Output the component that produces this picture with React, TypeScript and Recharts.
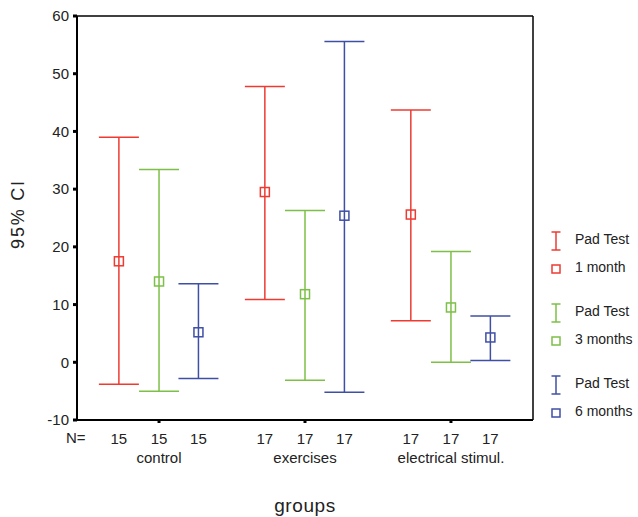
import React from 'react';
import { ComposedChart, Scatter, ErrorBar, XAxis, YAxis, ReferenceLine } from 'recharts';

const groups = ['control', 'exercises', 'electrical stimul.'];
const groupPos = [1, 2, 3];
const nValues = [15, 17, 17];
const yTicks = [-10, 0, 10, 20, 30, 40, 50, 60];

const seriesNames = ['1 month', '3 months', '6 months'];
const seriesColors = ['#ee3a31', '#7dbf47', '#3f4fa5'];
const seriesOffsets = [-0.275, 0, 0.27];

const mean1 = [17.5, 29.5, 25.6];
const low1 = [-3.8, 10.9, 7.2];
const high1 = [39.0, 47.8, 43.7];

const mean3 = [14.0, 11.8, 9.5];
const low3 = [-5.0, -3.1, 0.0];
const high3 = [33.4, 26.3, 19.2];

const mean6 = [5.2, 25.4, 4.3];
const low6 = [-2.8, -5.2, 0.3];
const high6 = [13.6, 55.6, 8.0];

const means = [mean1, mean3, mean6];
const lows = [low1, low3, low6];
const highs = [high1, high3, high6];

const buildSeries = (s: number) =>
  groupPos.map((g, i) => ({
    x: g + seriesOffsets[s],
    y: means[s][i],
    err: [means[s][i] - lows[s][i], highs[s][i] - means[s][i]],
  }));

const FONT = '"Liberation Sans", Arial, sans-serif';

const makeSquare = (color: string) => (props: any) => {
  const { cx, cy } = props;
  return <rect x={cx - 4.5} y={cy - 4.5} width={9} height={9} fill="none" stroke={color} strokeWidth={1.5} />;
};

const XTick = (props: any) => {
  const { x, y, payload } = props;
  const idx = groupPos.indexOf(payload.value);
  const px = 146;
  return (
    <g fontFamily={FONT}>
      {idx === 0 && (
        <text x={x - 93} y={y + 14} fontSize={15} dominantBaseline="middle" fill="#222">N=</text>
      )}
      {seriesOffsets.map((o, s) => (
        <text key={s} x={x + o * px} y={y + 15} fontSize={15} textAnchor="middle" dominantBaseline="middle" fill="#222">
          {nValues[idx]}
        </text>
      ))}
      <text x={x} y={y + 34} fontSize={15} textAnchor="middle" dominantBaseline="middle" fill="#222">
        {groups[idx]}
      </text>
    </g>
  );
};

const YLabel = (props: any) => {
  const vb = props.viewBox || { x: 0, y: 16, width: 77, height: 404 };
  const cx = 19;
  const cy = vb.y + vb.height / 2 - 4;
  return (
    <text
      x={cx}
      y={cy}
      transform={`rotate(-90 ${cx} ${cy})`}
      textAnchor="middle"
      dominantBaseline="middle"
      fontSize={18}
      letterSpacing={1.8}
      fill="#222"
      fontFamily={FONT}
    >
      95% CI
    </text>
  );
};

const LegendBox = () => (
  <svg width={95} height={200} style={{ position: 'absolute', left: 545, top: 225, fontFamily: FONT }}>
    {seriesColors.map((c, s) => {
      const base = [6, 78, 150][s];
      return (
        <g key={s}>
          <line x1={11} y1={base + 1} x2={11} y2={base + 19} stroke={c} strokeWidth={1.5} />
          <line x1={6.5} y1={base + 1} x2={15.5} y2={base + 1} stroke={c} strokeWidth={1.5} />
          <line x1={6.5} y1={base + 19} x2={15.5} y2={base + 19} stroke={c} strokeWidth={1.5} />
          <text x={30} y={base + 9} fontSize={14} fill="#222" dominantBaseline="middle">Pad Test</text>
          <rect x={7} y={base + 34} width={8} height={8} fill="none" stroke={c} strokeWidth={1.5} />
          <text x={30} y={base + 37} fontSize={14} fill="#222" dominantBaseline="middle">{seriesNames[s]}</text>
        </g>
      );
    })}
  </svg>
);

export default function App() {
  return (
    <div style={{ position: 'absolute', left: 0, top: 0, width: 638, height: 517, background: '#fff' }}>
      <ComposedChart width={638} height={517} margin={{ top: 16, right: 105, bottom: 37, left: 0 }}>
        <XAxis
          type="number"
          dataKey="x"
          domain={[0.438, 3.562]}
          ticks={groupPos}
          allowDataOverflow
          height={60}
          axisLine={{ stroke: '#000', strokeWidth: 2 }}
          tickLine={{ stroke: '#000', strokeWidth: 3 }}
          tickSize={3}
          tick={<XTick />}
          interval={0}
          label={{ value: 'groups', position: 'insideBottom', offset: -32, fontSize: 19, letterSpacing: 0.6, fill: '#222', fontFamily: FONT }}
        />
        <YAxis
          type="number"
          dataKey="y"
          domain={[-10, 60]}
          ticks={yTicks}
          allowDataOverflow
          width={77}
          axisLine={{ stroke: '#000', strokeWidth: 2 }}
          tickLine={{ stroke: '#000', strokeWidth: 3 }}
          tickSize={4}
          tickMargin={4}
          tick={{ fontSize: 15, fill: '#222', fontFamily: FONT }}
          label={{ content: <YLabel /> }}
        />
        <ReferenceLine y={60} stroke="#000" strokeWidth={1.5} />
        <ReferenceLine x={3.562} stroke="#000" strokeWidth={1.5} />
        {seriesColors.map((c, s) => (
          <Scatter
            key={s}
            name={seriesNames[s]}
            data={buildSeries(s)}
            shape={makeSquare(c)}
            isAnimationActive={false}
          >
            <ErrorBar dataKey="err" direction="y" width={20} stroke={c} strokeWidth={1.5} isAnimationActive={false} />
          </Scatter>
        ))}
      </ComposedChart>
      <LegendBox />
    </div>
  );
}
